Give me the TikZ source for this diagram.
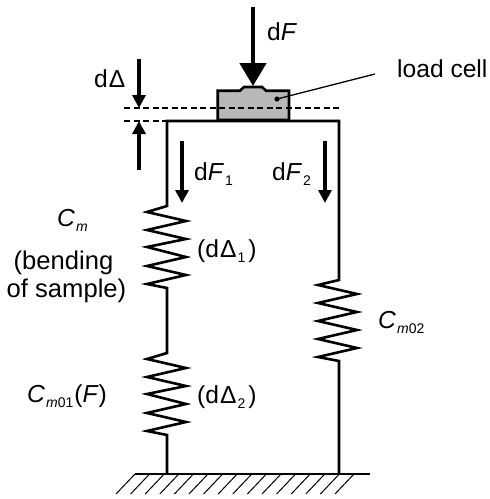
\documentclass[tikz,border=0pt]{standalone}
\usepackage{fontspec}
\setmainfont{Liberation Sans}
\usetikzlibrary{arrows.meta}
\tikzset{
 wire/.style={line width=2.6pt,line join=miter},
 dash line/.style={line width=1.1pt,dash pattern=on 6pt off 3.5pt},
 arrowbig/.style={line width=4.6pt,-{Triangle[length=23pt,width=26pt]}},
 arrowmid/.style={line width=4.6pt,-{Triangle[length=13pt,width=13pt]}},
 lab/.style={inner sep=0pt,font=\fontsize{24.6}{28}\selectfont},
 labwide/.style={inner sep=0pt,font=\fontsize{25.6}{28}\selectfont}
}
\newcommand{\sbs}[1]{\raisebox{-5.5pt}{\fontsize{14}{14}\selectfont #1}}
\begin{document}
\begin{tikzpicture}[x=1pt,y=-1pt]
\useasboundingbox (0,0) rectangle (490,499);
% ground
\coordinate (gl) at (135,474);
\coordinate (gr) at (370,474);
\draw[line width=1.8pt] (gl) -- (gr);
\foreach \x in {0,...,15}{\draw[line width=1pt] (135+14.6*\x,474) -- (116+14.6*\x,494);}
% frame and springs
\coordinate (g1) at (167,474);
\coordinate (g2) at (339,474);
\draw[wire] (g1) -- (167,435) -- (147,431) -- (186,422) -- (147,413) -- (186,404) -- (147,394) -- (186,386) -- (147,377) -- (186,368) -- (147,359) -- (167,353)
 -- (167,288) -- (147,284) -- (186,275) -- (147,266) -- (186,257) -- (147,247) -- (186,239) -- (147,230) -- (186,221) -- (147,212) -- (167,206)
 -- (167,121) -- (339,121) -- (339,280) -- (318,285) -- (357,294) -- (318,303) -- (357,312) -- (318,321) -- (357,330) -- (318,339) -- (357,348) -- (318,357) -- (339,361) -- (g2);
% load cell
\draw[wire,fill=black!28] (217.7,120) -- (217.7,90.7) -- (240,90.7) -- (244,87) -- (262,87) -- (266,90.7) -- (289,90.7) -- (289,120) -- cycle;
% dashed
\coordinate (da) at (124,108);
\coordinate (db) at (341,108);
\coordinate (dc) at (124,121);
\coordinate (dd) at (167,121);
\draw[dash line] (da) -- (db);
\draw[dash line] (dc) -- (dd);
% arrows
\coordinate (f0) at (253,7);
\coordinate (f1) at (253,86);
\draw[arrowbig] (f0) -- (f1);
\coordinate (a0) at (139,59);
\coordinate (a1) at (139,108);
\draw[arrowmid] (a0) -- (a1);
\coordinate (b0) at (139,170);
\coordinate (b1) at (139,121);
\draw[arrowmid] (b0) -- (b1);
\coordinate (c0) at (182,141);
\coordinate (c1) at (182,203);
\draw[arrowmid] (c0) -- (c1);
\coordinate (e0) at (325,141);
\coordinate (e1) at (325,203);
\draw[arrowmid] (e0) -- (e1);
% leader
\node[lab,anchor=base west] (lc) at (397,77) {load cell};
\coordinate (lt) at (375,74);
\coordinate (lh) at (277,99);
\draw[line width=1.3pt] (lt) -- (lh);
\fill (lh) circle (2.6pt);
% labels
\node[lab,anchor=base west] (t1) at (267,40) {d\textit{F}};
\node[lab,anchor=base west] (t2) at (94,87) {d\kern1ptΔ};
\node[lab,anchor=base west] (t3) at (194,180) {d\textit{F}\kern1pt\sbs{1}};
\node[lab,anchor=base west] (t4) at (272,180) {d\textit{F}\kern1pt\sbs{2}};
\node[lab,anchor=base west] (t5) at (57,226) {\textit{C}\kern1pt\sbs{\textit{m}}};
\node[labwide,anchor=base] (t6) at (63.5,269) {(bending};
\node[labwide,anchor=base] (t7) at (66.5,297) {of sample)};
\node[lab,anchor=base west] (t8) at (197,257) {(d\kern1ptΔ\kern1pt\sbs{1}\kern3pt)};
\node[lab,anchor=base west] (t9) at (197,403) {(d\kern1ptΔ\kern1pt\sbs{2}\kern3pt)};
\node[lab,anchor=base west] (t10) at (378,328) {\textit{C}\kern1pt\sbs{\textit{m}02}};
\node[lab,anchor=base west] (t11) at (27,402) {\textit{C}\kern1pt\sbs{\textit{m}01}\kern1pt(\textit{F})};
\end{tikzpicture}
\end{document}
